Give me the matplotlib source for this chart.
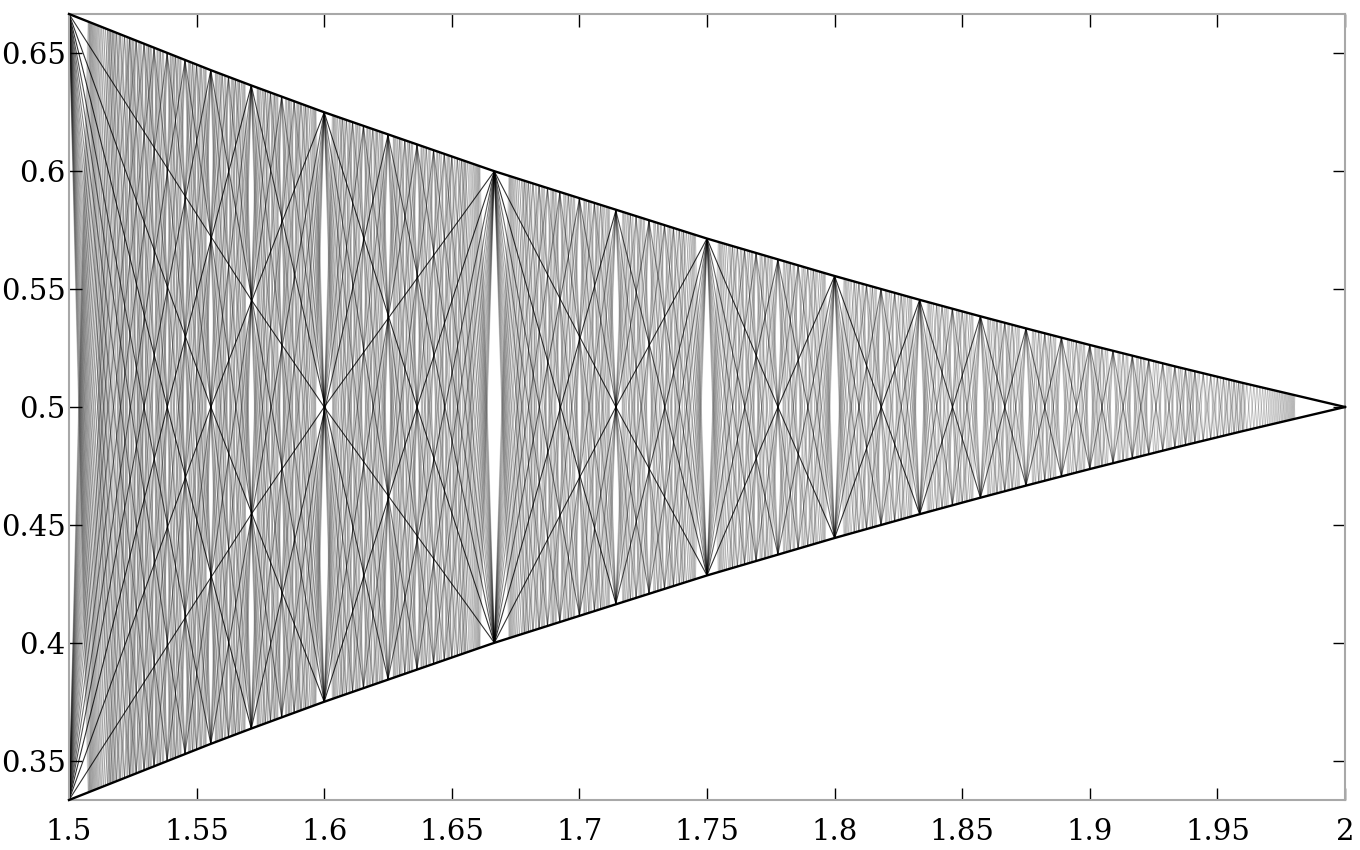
import numpy as np
import matplotlib
matplotlib.use("Agg")
import matplotlib.pyplot as plt
from matplotlib.collections import LineCollection

## Tick labels
x_ticks = [1.5, 1.55, 1.6, 1.65, 1.7, 1.75, 1.8, 1.85, 1.9, 1.95, 2]
x_labels = ['1.5', '1.55', '1.6', '1.65', '1.7', '1.75', '1.8', '1.85', '1.9', '1.95', '2']
y_ticks = [0.35, 0.4, 0.45, 0.5, 0.55, 0.6, 0.65]
y_labels = ['0.35', '0.4', '0.45', '0.5', '0.55', '0.6', '0.65']

## Arc end nodes: fraction num/den on one envelope, (num+2)/(den+1) on the other
den = [2, 3, 4, 5, 6, 7, 8, 9, 10, 11, 12, 13, 14, 15, 16, 17, 18, 19, 20, 21, 22, 23,
       24, 25, 26, 27, 28, 29, 30, 31, 32, 33, 34, 35, 36, 37, 38, 39, 40, 41, 42, 43,
       44, 45, 46, 47, 48, 49, 50, 51, 52, 53, 54, 55, 56, 57, 58, 59, 60, 61, 62, 63,
       64, 65, 66]
first_num = [3, 5, 6, 8, 9, 11, 12, 14, 15, 17, 18, 20, 21, 23, 24, 26, 27, 29, 30, 32, 33, 35,
             36, 38, 39, 41, 42, 44, 45, 47, 48, 50, 51, 53, 54, 56, 57, 59, 60, 62, 63, 65,
             66, 68, 69, 71, 72, 74, 75, 77, 78, 80, 81, 83, 84, 86, 87, 89, 90, 92, 93, 95,
             96, 98, 99]
last_num = [3, 5, 7, 9, 11, 13, 15, 17, 19, 21, 23, 25, 27, 29, 31, 33, 35, 37, 39, 41, 43, 45,
            47, 49, 51, 53, 55, 57, 59, 61, 63, 65, 67, 69, 71, 73, 75, 77, 79, 81, 83, 85,
            87, 89, 91, 93, 95, 97, 99, 99, 99, 99, 99, 99, 99, 99, 99, 99, 99, 99, 99, 99,
            99, 99, 99]

## Crossings, for the long dark arcs that bow visibly
bend_num = [3, 5, 6, 7, 9, 8, 12]
bend_den = [2, 3, 4, 4, 6, 5, 8]
bend_x = [[1.5714, 1.6], [1.7143], [1.5556], [1.7778], [1.5385], [1.6364], [1.5294]]
bend_y = [[0.5455, 0.5], [0.5], [0.5], [0.5], [0.5], [0.5], [0.5]]

## Envelope vertices
env_num = [3, 14, 11, 8, 5, 7, 9, 11, 13, 15, 19, 29, 49, 2]
env_den = [2, 9, 7, 5, 3, 4, 5, 6, 7, 8, 10, 15, 25, 1]

bends = {}
for i in range(len(bend_num)):
    bends[(bend_num[i], bend_den[i])] = (bend_x[i], bend_y[i])

segs = []
alphas = []
for i in range(len(den)):
    q = den[i]
    for p in range(first_num[i], last_num[i] + 1):
        xs = [p / q]
        ys = [q / p]
        if (p, q) in bends:
            xs += bends[(p, q)][0]
            ys += bends[(p, q)][1]
        xs.append((p + 2) / (q + 1))
        ys.append(1 - (q + 1) / (p + 2))
        a = min(0.8, 0.06 + 8 / (p + 1))
        segs.append(np.column_stack([xs, ys]))
        alphas.append(a)
        # same arc flipped about y = 0.5
        segs.append(np.column_stack([xs, 1 - np.array(ys)]))
        alphas.append(a)

fig = plt.figure(figsize=(13.6, 8.5), dpi=100)
ax = fig.add_axes([69 / 1360, 1 - 800 / 850, (1345 - 69) / 1360, (800 - 14) / 850])

colors = [(0, 0, 0, a) for a in alphas]
ax.add_collection(LineCollection(segs, colors=colors, linewidths=0.8))

env_x = np.array(env_num) / np.array(env_den)
env_y = np.array(env_den) / np.array(env_num)
ax.plot(env_x, env_y, color='black', lw=1.7, clip_on=False, zorder=3)
ax.plot(env_x, 1 - env_y, color='black', lw=1.7, clip_on=False, zorder=3)

ax.set_xlim(1.5, 2)
ax.set_ylim(1 / 3, 2 / 3)
ax.set_xticks(x_ticks)
ax.set_xticklabels(x_labels, family='DejaVu Serif', fontsize=21)
ax.set_yticks(y_ticks)
ax.set_yticklabels(y_labels, family='DejaVu Serif', fontsize=21)
ax.tick_params(direction='in', length=9, width=1.0, top=True, right=True, color='black')
ax.tick_params(axis='x', pad=13)
ax.tick_params(axis='y', pad=2.5)
for s in ax.spines.values():
    s.set_color('#a8a8a8')
    s.set_linewidth(1.5)

fig.savefig('out.png', dpi=100)
